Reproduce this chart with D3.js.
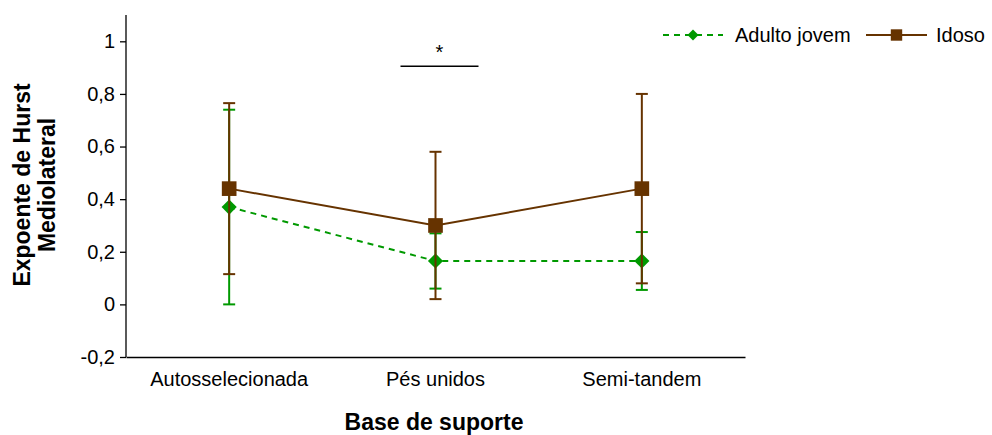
<!DOCTYPE html>
<html>
<head>
<meta charset="utf-8">
<script src="https://cdn.jsdelivr.net/npm/d3@7/dist/d3.min.js"></script>
<style>
  html, body { margin: 0; padding: 0; background: #fff; }
  svg { display: block; font-family: "Liberation Sans", Arial, sans-serif; }
</style>
</head>
<body>
<svg id="chart" width="992" height="435"></svg>
<script>
// Categories and series
const categories = ["Autosselecionada", "Pés unidos", "Semi-tandem"];
const seriesNames = ["Adulto jovem", "Idoso"];
const jovemMean = [0.37, 0.165, 0.165];
const jovemErr  = [0.37, 0.105, 0.11];
const idosoMean = [0.44, 0.30, 0.44];
const idosoErr  = [0.325, 0.28, 0.36];
const yTicks = [-0.2, 0, 0.2, 0.4, 0.6, 0.8, 1];

const FONT = "Liberation Sans, Arial, sans-serif";
const svg = d3.select("#chart");
const margin = { left: 126, right: 247, top: 15, bottom: 78 };
const W = 992, H = 435;

const x = d3.scaleBand().domain(categories)
  .range([margin.left, W - margin.right]).padding(0);
const y = d3.scaleLinear().domain([-0.2, 1.1]).range([H - margin.bottom, margin.top]);

const fmt = v => String(v).replace(".", ",");

// Y axis
const yAxis = svg.append("g")
  .attr("transform", `translate(${margin.left},0)`)
  .call(d3.axisLeft(y).tickValues(yTicks).tickSize(6).tickPadding(5).tickFormat(fmt));
yAxis.select(".domain").attr("d", `M-0,${y(1.1)}V${y(-0.2)}`).attr("stroke", "#000").attr("stroke-width", 1.3);
yAxis.selectAll(".tick line").attr("stroke", "#000").attr("stroke-width", 1.3);
yAxis.selectAll(".tick text").attr("font-size", 20).attr("fill", "#000").attr("font-family", FONT);

// X axis
const xAxis = svg.append("g")
  .attr("transform", `translate(0,${y(-0.2)})`)
  .call(d3.axisBottom(x).tickSize(0).tickPadding(15));
xAxis.select(".domain").attr("stroke", "#000").attr("stroke-width", 1.3);
xAxis.selectAll(".tick text").attr("font-size", 20).attr("fill", "#000").attr("font-family", FONT);

// Axis titles
svg.append("text")
  .attr("x", 434)
  .attr("y", 430)
  .attr("text-anchor", "middle")
  .attr("font-size", 23).attr("font-weight", "bold")
  .text("Base de suporte");

const yTitle = svg.append("text")
  .attr("transform", `translate(0,185) rotate(-90)`)
  .attr("text-anchor", "middle")
  .attr("font-size", 23).attr("font-weight", "bold");
yTitle.append("tspan").attr("x", 0).attr("y", 30).text("Expoente de Hurst");
yTitle.append("tspan").attr("x", 0).attr("y", 55).text("Mediolateral");

const cx = c => x(c) + x.bandwidth() / 2;

const series = [
  { name: seriesNames[0], mean: jovemMean, err: jovemErr, color: "#009900", dash: "6,5", diamond: true, size: 115 },
  { name: seriesNames[1], mean: idosoMean, err: idosoErr, color: "#663300", dash: null, diamond: false, size: 215 }
];

const line = d3.line().x((d, i) => cx(categories[i])).y(d => y(d));

series.forEach(s => {
  const g = svg.append("g");
  // error bars
  categories.forEach((c, i) => {
    const top = y(s.mean[i] + s.err[i]), bot = y(s.mean[i] - s.err[i]);
    g.append("line").attr("x1", cx(c)).attr("x2", cx(c)).attr("y1", top).attr("y2", bot)
      .attr("stroke", s.color).attr("stroke-width", 2);
    [top, bot].forEach(yy => g.append("line")
      .attr("x1", cx(c) - 6).attr("x2", cx(c) + 6).attr("y1", yy).attr("y2", yy)
      .attr("stroke", s.color).attr("stroke-width", 2));
  });
  // line
  g.append("path").datum(s.mean).attr("d", line)
    .attr("fill", "none").attr("stroke", s.color).attr("stroke-width", 2)
    .attr("stroke-dasharray", s.dash);
  // markers
  g.selectAll("path.m").data(s.mean).join("path")
    .attr("class", "m")
    .attr("d", d3.symbol().type(d3.symbolSquare).size(s.size))
    .attr("transform", (d, i) => `translate(${cx(categories[i])},${y(d)})` + (s.diamond ? " rotate(45)" : ""))
    .attr("fill", s.color);
});

// Significance marker between groups at "Pés unidos"
const sigX = cx(categories[1]);
svg.append("line").attr("x1", sigX - 35).attr("x2", sigX + 43)
  .attr("y1", y(0.905)).attr("y2", y(0.905)).attr("stroke", "#000").attr("stroke-width", 1.5);
svg.append("text").attr("x", sigX + 4).attr("y", y(0.905) - 7)
  .attr("text-anchor", "middle").attr("font-size", 20).text("*");

// Legend
const legend = svg.append("g").attr("transform", "translate(0,35)");
const leg = [
  { s: series[0], x0: 663, x1: 723, tx: 735 },
  { s: series[1], x0: 866, x1: 927, tx: 936 }
];
leg.forEach(l => {
  legend.append("line").attr("x1", l.x0).attr("x2", l.x1).attr("y1", 0).attr("y2", 0)
    .attr("stroke", l.s.color).attr("stroke-width", 2).attr("stroke-dasharray", l.s.dash);
  legend.append("path")
    .attr("d", d3.symbol().type(d3.symbolSquare).size(l.s.diamond ? 60 : 130))
    .attr("transform", `translate(${(l.x0 + l.x1) / 2},0)` + (l.s.diamond ? " rotate(45)" : ""))
    .attr("fill", l.s.color);
  legend.append("text").attr("x", l.tx).attr("y", 7).attr("font-size", 20).text(l.s.name);
});
</script>
</body>
</html>
